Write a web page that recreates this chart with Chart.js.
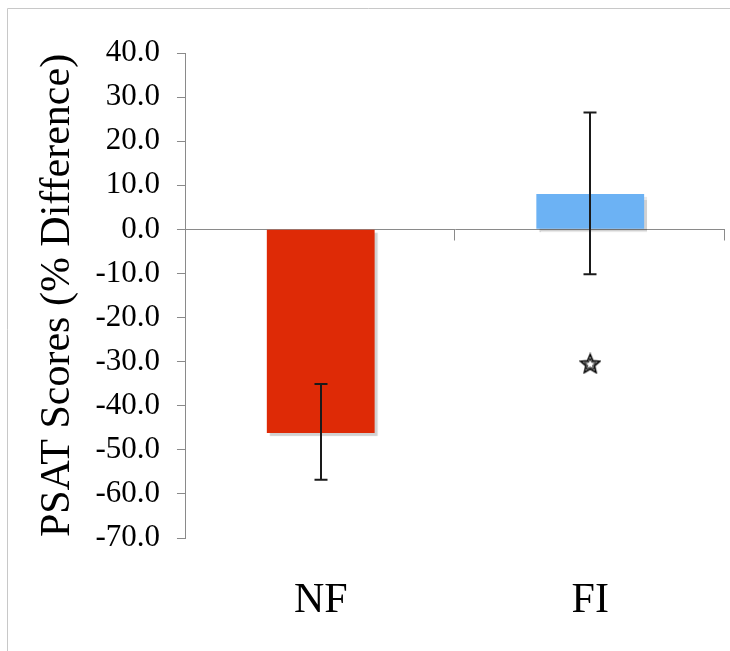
<!DOCTYPE html>
<html>
<head>
<meta charset="utf-8">
<script src="https://cdn.jsdelivr.net/npm/chart.js@4/dist/chart.umd.min.js"></script>
<style>
  html, body { margin: 0; padding: 0; background: #fff; }
  canvas { display: block; }
</style>
</head>
<body>
<canvas id="grafico" width="730" height="651"></canvas>
<script>
// dados
const groups = ['NF', 'FI'];
const meanDiff = [-46.2, 8.0];
const errUpper = [-35.1, 26.5];
const errLower = [-56.8, -10.2];
const starMark = [null, -30.4];
const yTicks = [40, 30, 20, 10, 0, -10, -20, -30, -40, -50, -60, -70];

const serif = "'Liberation Serif', 'Times New Roman', Times, serif";
const axisGray = '#8a8a8a';

// estrela (contorno) usada como marcador
function makeStar(size) {
    const c = document.createElement('canvas');
    c.width = size; c.height = size;
    const g = c.getContext('2d');
    const cx = size / 2, cy = size / 2 + 1;
    const ro = size / 2 - 1, ri = ro * 0.45;
    g.beginPath();
    for (let i = 0; i < 10; i++) {
        const r = i % 2 === 0 ? ro : ri;
        const a = -Math.PI / 2 + i * Math.PI / 5;
        g.lineTo(cx + r * Math.cos(a), cy + r * Math.sin(a));
    }
    g.closePath();
    g.fillStyle = '#fff';
    g.fill();
    g.strokeStyle = '#000';
    g.lineWidth = 1.6;
    g.stroke();
    // contorno interno
    g.beginPath();
    for (let i = 0; i < 10; i++) {
        const r = (i % 2 === 0 ? ro : ri) * 0.6;
        const a = -Math.PI / 2 + i * Math.PI / 5;
        g.lineTo(cx + r * Math.cos(a), cy + r * Math.sin(a));
    }
    g.closePath();
    g.lineWidth = 1;
    g.stroke();
    return c;
}

const framePlugin = {
    id: 'frame',
    beforeDraw(chart) {
        const ctx = chart.ctx;
        ctx.save();
        ctx.strokeStyle = '#c8c8c8';
        ctx.lineWidth = 1;
        ctx.beginPath();
        ctx.moveTo(7.5, chart.height);
        ctx.lineTo(7.5, 8.5);
        ctx.lineTo(chart.width, 8.5);
        ctx.stroke();
        ctx.restore();
    }
};

// linha do zero com marcas entre categorias
const zeroLinePlugin = {
    id: 'zeroLine',
    beforeDatasetsDraw(chart) {
        const ctx = chart.ctx;
        const area = chart.chartArea;
        const xScale = chart.scales.x;
        const y0 = Math.round(chart.scales.y.getPixelForValue(0)) + 0.5;
        const half = (xScale.getPixelForValue(1) - xScale.getPixelForValue(0)) / 2;
        ctx.save();
        ctx.strokeStyle = axisGray;
        ctx.lineWidth = 1;
        ctx.beginPath();
        ctx.moveTo(area.left, y0);
        ctx.lineTo(area.right, y0);
        groups.forEach((g, i) => {
            const xb = Math.round(xScale.getPixelForValue(i) + half) - 0.5;
            ctx.moveTo(xb, y0);
            ctx.lineTo(xb, y0 + 11);
        });
        ctx.stroke();
        ctx.restore();
    }
};

const shadowPlugin = {
    id: 'barShadow',
    beforeDatasetDraw(chart, args) {
        if (args.index !== 0) return;
        const ctx = chart.ctx;
        ctx.save();
        ctx.shadowColor = 'rgba(0,0,0,0.18)';
        ctx.shadowOffsetX = 3;
        ctx.shadowOffsetY = 3;
        ctx.shadowBlur = 1;
    },
    afterDatasetDraw(chart, args) {
        if (args.index !== 0) return;
        chart.ctx.restore();
    }
};

const errorBarPlugin = {
    id: 'errorBars',
    afterDatasetsDraw(chart) {
        const ctx = chart.ctx;
        const yScale = chart.scales.y;
        const meta = chart.getDatasetMeta(0);
        ctx.save();
        ctx.strokeStyle = '#1a1a1a';
        ctx.lineWidth = 2;
        meta.data.forEach((bar, i) => {
            const x = Math.round(bar.x);
            const yHi = yScale.getPixelForValue(errUpper[i]);
            const yLo = yScale.getPixelForValue(errLower[i]);
            ctx.beginPath();
            ctx.moveTo(x, yHi);
            ctx.lineTo(x, yLo);
            ctx.moveTo(x - 6.5, yHi);
            ctx.lineTo(x + 6.5, yHi);
            ctx.moveTo(x - 6.5, yLo);
            ctx.lineTo(x + 6.5, yLo);
            ctx.stroke();
        });
        ctx.restore();
    }
};

function desenhar() {
    const config = {
        type: 'bar',
        data: {
            labels: groups,
            datasets: [
                {
                    label: 'PSAT',
                    data: meanDiff,
                    backgroundColor: ['#de2a06', '#6cb2f4'],
                    borderWidth: 0,
                    barPercentage: 0.4,
                    categoryPercentage: 1.0,
                    order: 2
                },
                {
                    type: 'line',
                    label: 'sig',
                    data: starMark,
                    showLine: false,
                    pointStyle: makeStar(22),
                    pointRadius: 11,
                    order: 1
                }
            ]
        },
        plugins: [framePlugin, zeroLinePlugin, shadowPlugin, errorBarPlugin],
        options: {
            responsive: false,
            animation: false,
            devicePixelRatio: 1,
            layout: {
                autoPadding: false,
                padding: { left: 33, right: 5, top: 53, bottom: -13 }
            },
            plugins: {
                legend: { display: false },
                tooltip: { enabled: false }
            },
            scales: {
                x: {
                    position: 'bottom',
                    grid: { display: false, drawTicks: false },
                    border: { display: false },
                    ticks: {
                        color: '#000',
                        padding: 0,
                        font: { family: serif, size: 42, lineHeight: 3 }
                    }
                },
                y: {
                    min: -70,
                    max: 40,
                    afterBuildTicks(scale) {
                        scale.ticks = yTicks.map(v => ({ value: v }));
                    },
                    grid: {
                        drawOnChartArea: false,
                        drawTicks: true,
                        tickLength: 9,
                        color: axisGray
                    },
                    border: { display: true, color: axisGray, width: 1 },
                    ticks: {
                        color: '#000',
                        padding: 17,
                        font: { family: serif, size: 31 },
                        callback: (v) => Number(v).toFixed(1)
                    },
                    title: {
                        display: true,
                        text: 'PSAT Scores (% Difference)',
                        color: '#000',
                        padding: { top: 0, bottom: -5 },
                        font: { family: serif, size: 42 }
                    }
                }
            }
        }
    };

    const ctxBar = document.getElementById('grafico').getContext('2d');
    return new Chart(ctxBar, config);
}

let barChart = null;
Promise.all([
    document.fonts.load("31px 'Liberation Serif'"),
    document.fonts.load("42px 'Liberation Serif'")
]).catch(() => null).then(() => {
    barChart = desenhar();
});
</script>
</body>
</html>
